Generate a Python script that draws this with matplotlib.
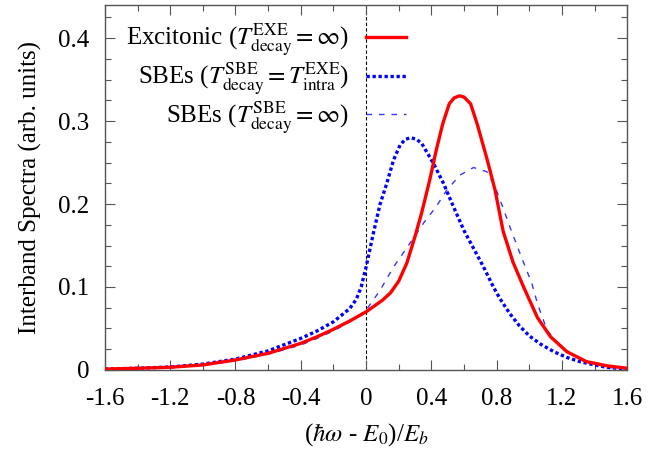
import numpy as np
import matplotlib
matplotlib.use("Agg")
import matplotlib.pyplot as plt
from matplotlib.ticker import MultipleLocator

plt.rcParams['font.family'] = ['Liberation Serif', 'DejaVu Serif']
plt.rcParams['mathtext.fontset'] = 'stix'
plt.rcParams['font.size'] = 18

# Excitonic (T_decay^EXE = inf)
exe_x = [-1.6, -1.4, -1.2, -1.0, -0.8, -0.6, -0.4, -0.3, -0.2, -0.1, 0.0, 0.05, 0.1, 0.15, 0.2,
         0.25, 0.3, 0.34, 0.39, 0.43, 0.47, 0.51, 0.54, 0.572, 0.60, 0.64, 0.68, 0.74, 0.79, 0.84,
         0.90, 0.965, 1.05, 1.13, 1.23, 1.35, 1.48, 1.6]
exe_y = [0.001, 0.002, 0.0032, 0.006, 0.012, 0.020, 0.032, 0.040, 0.049, 0.059, 0.070, 0.077,
         0.084, 0.093, 0.107, 0.129, 0.161, 0.189, 0.229, 0.265, 0.297, 0.321, 0.328, 0.3305,
         0.329, 0.321, 0.297, 0.255, 0.217, 0.167, 0.130, 0.100, 0.063, 0.040, 0.022, 0.010,
         0.0048, 0.002]

# SBEs (T_decay^SBE = T_intra^EXE)
sbe_intra_x = [-1.6, -1.4, -1.2, -1.0, -0.8, -0.6, -0.4, -0.3, -0.2, -0.15, -0.1, -0.06, -0.03,
               0.0, 0.045, 0.086, 0.127, 0.168, 0.208, 0.24, 0.274, 0.31, 0.341, 0.413, 0.474,
               0.535, 0.6, 0.66, 0.72, 0.78, 0.82, 0.88, 0.94, 1.0, 1.07, 1.15, 1.23, 1.31, 1.40,
               1.48, 1.6]
sbe_intra_y = [0.001, 0.002, 0.0035, 0.007, 0.013, 0.023, 0.038, 0.047, 0.058, 0.066, 0.074,
               0.085, 0.100, 0.124, 0.165, 0.200, 0.225, 0.253, 0.271, 0.278, 0.280, 0.278, 0.273,
               0.249, 0.225, 0.197, 0.168, 0.146, 0.124, 0.100, 0.086, 0.068, 0.053, 0.041, 0.031,
               0.022, 0.015, 0.010, 0.006, 0.003, 0.001]

# SBEs (T_decay^SBE = inf)
sbe_inf_x = [-1.6, -1.4, -1.2, -1.0, -0.8, -0.6, -0.4, -0.3, -0.2, -0.1, 0.0, 0.086, 0.168, 0.27,
             0.352, 0.43, 0.495, 0.576, 0.658, 0.74, 0.79, 0.84, 0.88, 0.94, 1.016, 1.05, 1.108,
             1.19, 1.27, 1.37, 1.52, 1.6]
sbe_inf_y = [0.001, 0.002, 0.003, 0.0055, 0.011, 0.019, 0.030, 0.038, 0.047, 0.058, 0.072, 0.096,
             0.124, 0.153, 0.177, 0.197, 0.217, 0.235, 0.244, 0.239, 0.221, 0.195, 0.173, 0.142,
             0.104, 0.080, 0.048, 0.028, 0.018, 0.008, 0.002, 0.001]

xticks = [-1.6, -1.2, -0.8, -0.4, 0, 0.4, 0.8, 1.2, 1.6]
xticklabels = ['-1.6', '-1.2', '-0.8', '-0.4', '0', '0.4', '0.8', '1.2', '1.6']
yticks = [0, 0.1, 0.2, 0.3, 0.4]
yticklabels = ['0', '0.1', '0.2', '0.3', '0.4']

fig = plt.figure(figsize=(6.68, 4.55), dpi=100)
ax = fig.add_axes([0.157, 0.187, 0.782, 0.802])

ax.axvline(0, color='black', lw=0.8, ls=(0, (3, 2)), zorder=1)

ax.plot(exe_x, exe_y, color='#ff0000', lw=2.4,
        label=r'Excitonic ($T^{\mathrm{EXE}}_{\mathrm{decay}} = \infty$)', zorder=3)
ax.plot(sbe_intra_x, sbe_intra_y, color='#0000ff', lw=2.4, ls=(0, (1, 0.8)),
        label=r'SBEs ($T^{\mathrm{SBE}}_{\mathrm{decay}} = T^{\mathrm{EXE}}_{\mathrm{intra}}$)', zorder=2)
ax.plot(sbe_inf_x, sbe_inf_y, color='#3535ff', lw=1.0, ls=(0, (4, 5)),
        label=r'SBEs ($T^{\mathrm{SBE}}_{\mathrm{decay}} = \infty$)', zorder=2)

ax.set_xlim(-1.6, 1.6)
ax.set_ylim(0, 0.44)
ax.set_xticks(xticks)
ax.set_xticklabels(xticklabels)
ax.set_yticks(yticks)
ax.set_yticklabels(yticklabels)
ax.xaxis.set_minor_locator(MultipleLocator(0.2))
ax.yaxis.set_minor_locator(MultipleLocator(0.025))
ax.tick_params(which='both', direction='in', top=True, right=True, color='#555555')
ax.tick_params(which='major', length=7, width=0.8)
ax.tick_params(which='minor', length=4, width=0.8)
ax.tick_params(axis='x', which='major', pad=13)
ax.tick_params(axis='y', which='major', pad=11)
for s in ax.spines.values():
    s.set_color('#555555')
    s.set_linewidth(1.0)

ax.set_xlabel(r'($\hbar\omega$ - $E_0$)/$E_b$', labelpad=8)
ax.set_ylabel('Interband Spectra (arb. units)', labelpad=12)

ax.legend(loc='upper right', bbox_to_anchor=(0.606, 0.995), frameon=False, markerfirst=False,
          handlelength=1.6, handletextpad=0.7, labelspacing=0.1, borderaxespad=0.2)

fig.savefig('out.png', dpi=100)
